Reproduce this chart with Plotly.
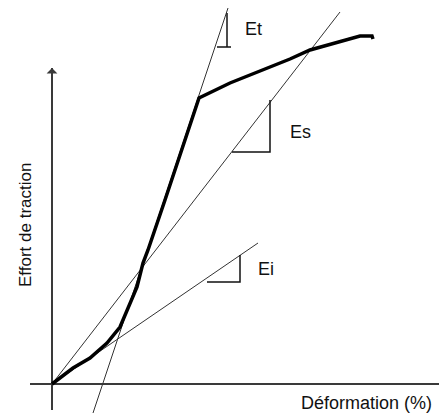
import plotly.graph_objects as go

# Stress-strain curve (thick) (arbitrary units)
strain = [0, 0.21, 0.38, 0.55, 0.68, 0.76, 0.85, 0.91, 0.96, 1.13, 1.47,
          1.78, 2.11, 2.38, 2.58, 2.85, 3.08, 3.20, 3.21]
stress = [0, 0.16, 0.26, 0.41, 0.57, 0.76, 0.97, 1.21, 1.34, 1.84, 2.86,
          3.01, 3.14, 3.25, 3.34, 3.42, 3.48, 3.48, 3.45]

# Tangent modulus line (Et)
et_x = [0.41, 1.76]
et_y = [-0.29, 3.76]
# Secant modulus line (Es)
es_x = [0, 2.88]
es_y = [0, 3.72]
# Initial modulus line (Ei)
ei_x = [0, 2.06]
ei_y = [0, 1.41]

# Slope triangles
et_tri_x = [1.65, 1.79, None, 1.75, 1.75]
et_tri_y = [3.37, 3.37, None, 3.37, 3.71]
es_tri_x = [1.80, 2.18, 2.18]
es_tri_y = [2.32, 2.32, 2.84]
ei_tri_x = [1.55, 1.88, 1.88]
ei_tri_y = [1.02, 1.02, 1.29]

# Axes (crossing lines)
xaxis_x = [-0.22, 3.87]
xaxis_y = [0, 0]
yaxis_x = [0, 0]
yaxis_y = [-0.26, 3.16]

labels = ["Et", "Es", "Ei"]
label_x = [2.01, 2.48, 2.14]
label_y = [3.55, 2.52, 1.15]

x_title = "Déformation (%)"
y_title = "Effort de traction"

FONT = "Liberation Sans, Arial, sans-serif"
THIN = "#333333"

fig = go.Figure()

# axes
fig.add_trace(go.Scatter(x=xaxis_x, y=xaxis_y, mode="lines",
                         line=dict(color="#3a3a3a", width=2), hoverinfo="skip"))
fig.add_trace(go.Scatter(x=yaxis_x, y=yaxis_y, mode="lines",
                         line=dict(color="#3a3a3a", width=2), hoverinfo="skip"))

# modulus lines
for xs, ys in [(et_x, et_y), (es_x, es_y), (ei_x, ei_y)]:
    fig.add_trace(go.Scatter(x=xs, y=ys, mode="lines",
                             line=dict(color=THIN, width=1), hoverinfo="skip"))

# triangles
for xs, ys in [(et_tri_x, et_tri_y), (es_tri_x, es_tri_y), (ei_tri_x, ei_tri_y)]:
    fig.add_trace(go.Scatter(x=xs, y=ys, mode="lines",
                             line=dict(color="#111111", width=1.5), hoverinfo="skip"))

# main curve
fig.add_trace(go.Scatter(x=strain, y=stress, mode="lines",
                         line=dict(color="#000000", width=3.5), hoverinfo="skip"))

# arrow head on y axis
fig.add_annotation(x=yaxis_x[1], y=yaxis_y[1], ax=yaxis_x[0], ay=yaxis_y[1] - 0.3,
                   xref="x", yref="y", axref="x", ayref="y", text="",
                   showarrow=True, arrowhead=1, arrowsize=1.2, arrowwidth=1.5,
                   arrowcolor="#3a3a3a")

for t, lx, ly in zip(labels, label_x, label_y):
    fig.add_annotation(x=lx, y=ly, text=t, showarrow=False,
                       font=dict(family=FONT, size=18, color="#111111"))

fig.add_annotation(x=3.14, y=-0.19, text=x_title, showarrow=False,
                   font=dict(family=FONT, size=18, color="#111111"))
fig.add_annotation(x=-0.27, y=1.59, text=y_title, showarrow=False, textangle=-90,
                   font=dict(family=FONT, size=17, color="#111111"))

fig.update_layout(
    width=439, height=416,
    margin=dict(l=0, r=0, t=0, b=0),
    paper_bgcolor="white", plot_bgcolor="white",
    showlegend=False,
    xaxis=dict(range=[-0.52, 3.87], visible=False, fixedrange=True),
    yaxis=dict(range=[-0.32, 3.84], visible=False, fixedrange=True),
)

fig.write_html("out.html", config={"displayModeBar": False},
               post_script="document.body.style.margin='0';document.body.style.overflow='hidden';")
